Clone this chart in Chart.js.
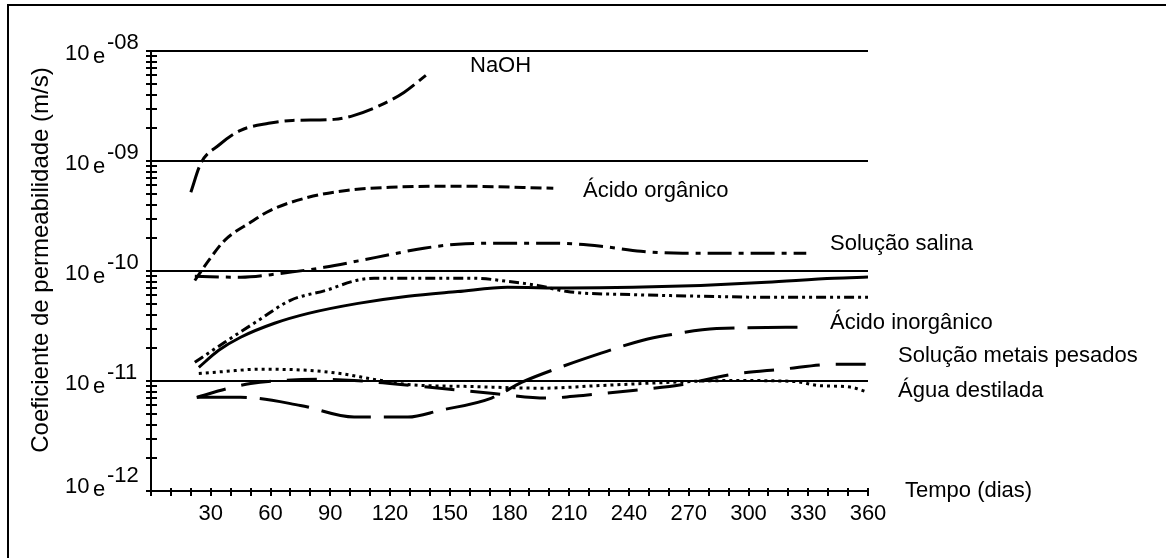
<!DOCTYPE html>
<html><head><meta charset="utf-8">
<script src="https://cdn.jsdelivr.net/npm/chart.js@4.4.1/dist/chart.umd.min.js"></script>
<style>html,body{margin:0;padding:0;background:#fff;}#wrap{width:1166px;height:558px;}</style>
</head><body><div id="wrap"><canvas id="c" width="1166" height="558"></canvas></div>
<script>
// ---- data ----
const xTickDays = [0,10,20,30,40,50,60,70,80,90,100,110,120,130,140,150,160,170,180,190,200,210,220,230,240,250,260,270,280,290,300,310,320,330,340,350,360];
const xTickLabels = [30,60,90,120,150,180,210,240,270,300,330,360];
const yDecades = [-12,-11,-10,-9,-8];
const yBaseLabel = '10 e';
const yExpLabels = ['-12','-11','-10','-09','-08'];
const xTitle = 'Tempo (dias)';
const yTitle = 'Coeficiente de permeabilidade (m/s)';

const naohDays = [20,25,34,45,59,71,92,102,115,127,138];
const naohK = [5.2e-10,9.5e-10,1.39e-9,1.9e-9,2.2e-9,2.34e-9,2.39e-9,2.6e-9,3.2e-9,4.2e-9,6.0e-9];

const organicoDays = [22,29,37,50,60,79,99,120,154,202];
const organicoK = [8.2e-11,1.25e-10,1.9e-10,2.77e-10,3.56e-10,4.68e-10,5.42e-10,5.77e-10,5.9e-10,5.65e-10];

const salinaDays = [22,45,65,87,113,137,154,179,201,226,246,267,292,329];
const salinaK = [8.95e-11,8.77e-11,9.5e-11,1.08e-10,1.33e-10,1.61e-10,1.75e-10,1.79e-10,1.79e-10,1.68e-10,1.51e-10,1.45e-10,1.45e-10,1.45e-10];

const dashDotDotDays = [22,37,54,70,88,103,112,138,162,179,194,209,242,276,309,360];
const dashDotDotK = [1.48e-11,2.25e-11,3.56e-11,5.42e-11,6.68e-11,8.2e-11,8.6e-11,8.6e-11,8.6e-11,8.05e-11,7.4e-11,6.5e-11,6.1e-11,5.9e-11,5.77e-11,5.77e-11];

const solidDays = [24,34,45,62,79,104,129,154,179,209,242,276,309,343,360];
const solidK = [1.33e-11,1.9e-11,2.5e-11,3.35e-11,4.12e-11,5.08e-11,5.9e-11,6.5e-11,7.1e-11,7.0e-11,7.1e-11,7.4e-11,7.9e-11,8.6e-11,8.8e-11];

const inorganicoDays = [23,45,75,102,129,145,171,186,197,226,247,259,284,329];
const inorganicoK = [7.1e-12,7.1e-12,6.0e-12,4.7e-12,4.7e-12,5.4e-12,7.0e-12,9.7e-12,1.17e-11,1.79e-11,2.35e-11,2.6e-11,3.0e-11,3.08e-11];

const metaisDays = [23,39,50,65,84,102,120,145,172,199,217,242,267,292,317,343,360];
const metaisK = [7.1e-12,8.6e-12,9.5e-12,1.01e-11,1.035e-11,1.01e-11,9.5e-12,8.6e-12,7.7e-12,7.0e-12,7.4e-12,8.2e-12,9.3e-12,1.15e-11,1.28e-11,1.42e-11,1.42e-11];

const aguaDays = [24,37,54,79,95,112,129,162,196,226,259,292,323,335,351,360];
const aguaK = [1.17e-11,1.22e-11,1.28e-11,1.25e-11,1.17e-11,1.035e-11,9.3e-12,8.9e-12,8.6e-12,9.1e-12,9.7e-12,1.01e-11,9.9e-12,9.1e-12,8.8e-12,7.9e-12];

const seriesNames = ['NaOH','Ácido orgânico','Solução salina','Solução metais pesados','Água destilada','Ácido inorgânico'];

// ---- styles / layout ----
const FONT = 'Liberation Sans, Arial, sans-serif';
const seriesDefs = [
  {days: naohDays, k: naohK, dash: [26,6,10,6]},
  {days: organicoDays, k: organicoK, dash: [11,5]},
  {days: salinaDays, k: salinaK, dash: [24,7,5,7]},
  {days: dashDotDotDays, k: dashDotDotK, dash: [10,4,3,4,3,4]},
  {days: solidDays, k: solidK, dash: []},
  {days: inorganicoDays, k: inorganicoK, dash: [50,13]},
  {days: metaisDays, k: metaisK, dash: [30,16]},
  {days: aguaDays, k: aguaK, dash: [3,4]}
];
const labelPos = [
  {text: seriesNames[0], x: 470, y: 66},
  {text: seriesNames[1], x: 583, y: 191},
  {text: seriesNames[2], x: 830, y: 244},
  {text: seriesNames[5], x: 830, y: 323},
  {text: seriesNames[3], x: 898, y: 356},
  {text: seriesNames[4], x: 898, y: 391},
  {text: xTitle, x: 905, y: 491}
];

const decor = {
  id: 'decor',
  afterDraw(chart) {
    const {ctx, chartArea: a, scales: {x, y}} = chart;
    ctx.save();
    ctx.strokeStyle = '#000'; ctx.fillStyle = '#000';
    ctx.lineWidth = 2;
    ctx.strokeRect(8, 5, 1400, 800);
    // y ticks crossing axis
    ctx.lineWidth = 2;
    y.ticks.forEach(t => {
      const py = Math.round(y.getPixelForValue(t.value));
      ctx.beginPath(); ctx.moveTo(a.left - 5, py); ctx.lineTo(a.left + 6, py); ctx.stroke();
    });
    x.ticks.forEach(t => {
      const px = Math.round(x.getPixelForValue(t.value));
      ctx.beginPath(); ctx.moveTo(px, a.bottom - 3); ctx.lineTo(px, a.bottom + 5); ctx.stroke();
    });
    // y labels
    ctx.textAlign = 'left'; ctx.textBaseline = 'alphabetic';
    ctx.font = '22px ' + FONT;
    yDecades.forEach((e, i) => {
      const py = y.getPixelForValue(Math.pow(10, e));
      const sh = (i === 0) ? -7 : 0;
      ctx.fillText('10', 65, py + 9 + sh);
      ctx.fillText('e', 93, py + 12 + sh);
      ctx.fillText(yExpLabels[i], 107, py - 2 + sh);
    });
    // series labels
    ctx.textBaseline = 'middle';
    labelPos.forEach(l => ctx.fillText(l.text, l.x, l.y));
    // y title
    ctx.save();
    ctx.translate(41, 260);
    ctx.rotate(-Math.PI / 2);
    ctx.textAlign = 'center';
    ctx.font = '24px ' + FONT;
    ctx.fillText(yTitle, 0, 0);
    ctx.restore();
    ctx.restore();
  }
};

new Chart(document.getElementById('c'), {
  type: 'line',
  data: {
    datasets: seriesDefs.map(s => ({
      data: s.days.map((d, i) => ({x: d, y: s.k[i]})),
      borderColor: '#000', borderWidth: 3, borderDash: s.dash, borderCapStyle: 'butt',
      pointRadius: 0, fill: false, cubicInterpolationMode: 'monotone'
    }))
  },
  options: {
    responsive: false, animation: false, devicePixelRatio: 1,
    layout: {padding: {left: 0, right: 1166 - 868, top: 51, bottom: 0}},
    plugins: {legend: {display: false}, tooltip: {enabled: false}},
    scales: {
      x: {
        type: 'linear', min: 0, max: 360,
        afterBuildTicks: s => { s.ticks = xTickDays.map(v => ({value: v})); },
        afterFit: s => { s.height = 558 - 491; },
        ticks: {
          autoSkip: false, maxRotation: 0, color: '#000', padding: 10,
          font: {family: FONT, size: 22},
          callback: v => xTickLabels.includes(v) ? String(v) : ''
        },
        grid: {drawOnChartArea: false, drawTicks: false},
        border: {color: '#000', width: 2}
      },
      y: {
        type: 'logarithmic', min: 1e-12, max: 1e-8,
        afterBuildTicks: s => {
          const t = [];
          yDecades.forEach(e => {
            const m = e === -8 ? 1 : 9;
            for (let k = 1; k <= m; k++) t.push({value: k * Math.pow(10, e), major: k === 1});
          });
          s.ticks = t;
        },
        afterFit: s => { s.width = 151; },
        ticks: {display: false},
        grid: {color: c => (c.tick && c.tick.major) ? '#000' : 'rgba(0,0,0,0)', lineWidth: 2, drawTicks: false},
        border: {color: '#000', width: 2}
      }
    }
  },
  plugins: [decor]
});
</script>
</body></html>
